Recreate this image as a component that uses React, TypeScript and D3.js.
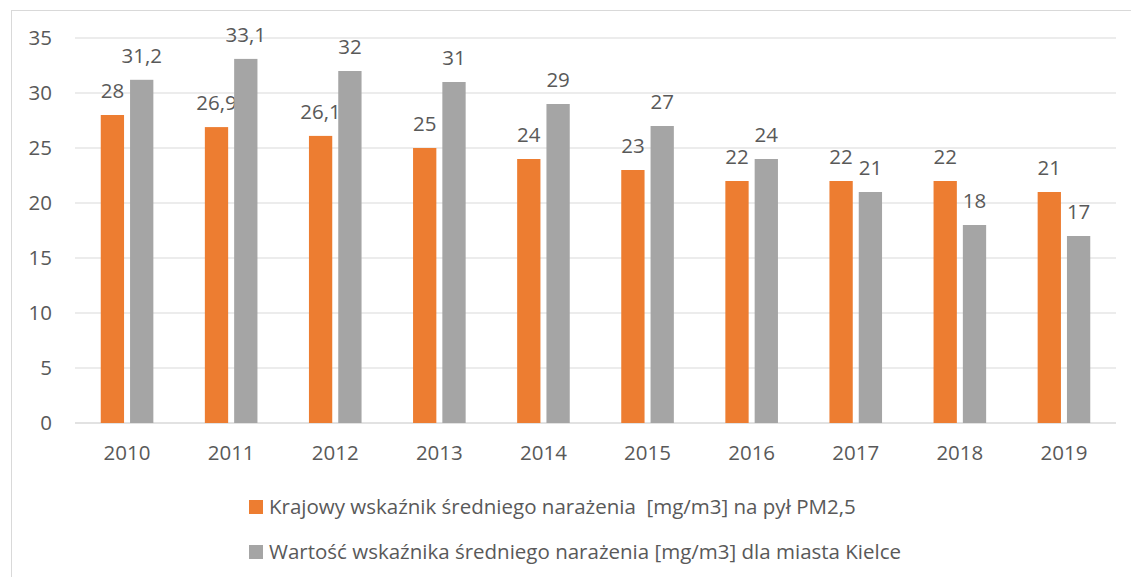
import React from 'react';
import * as d3 from 'd3';

const years = ['2010', '2011', '2012', '2013', '2014', '2015', '2016', '2017', '2018', '2019'];
const national = [28, 26.9, 26.1, 25, 24, 23, 22, 22, 22, 21];
const kielce = [31.2, 33.1, 32, 31, 29, 27, 24, 21, 18, 17];
const yTicks = [0, 5, 10, 15, 20, 25, 30, 35];
const seriesNames = [
  'Krajowy wskaźnik średniego narażenia  [mg/m3] na pył PM2,5',
  'Wartość wskaźnika średniego narażenia [mg/m3] dla miasta Kielce',
];
const colors = ['#ED7D31', '#A5A5A5'];

const W = 1131;
const H = 577;
const FONT = '"Open Sans", sans-serif';
const TEXT = '#595959';
const FS = 20.5;

const fmt = (v: number) => String(v).replace('.', ',');

const App: React.FC = () => {
  const x0 = d3.scaleBand<string>().domain(years).range([75, 1116]).padding(0);
  const groupW = 52.6;
  const x1 = d3.scaleBand<number>().domain([0, 1]).range([0, groupW]).paddingInner(0.205);
  const y = d3.scaleLinear().domain([0, 35]).range([423, 38]);
  const series = [national, kielce];

  return (
    <svg width={W} height={H} style={{ position: 'fixed', left: 0, top: 0, background: '#fff' }}>
      <rect x={11.5} y={10.5} width={W + 10} height={H + 10} fill="#fff" stroke="#D9D9D9" />
      {yTicks.map((t) => (
        <g key={t}>
          <line x1={75} x2={1116} y1={y(t)} y2={y(t)} stroke="#D9D9D9" strokeWidth={t === 0 ? 1.5 : 1.2} />
          <text x={52} y={y(t)} dy="0.35em" textAnchor="end" fontFamily={FONT} fontSize={FS} fill={TEXT}>
            {t}
          </text>
        </g>
      ))}
      {years.map((yr, i) => {
        const gx = x0(yr)! + (x0.bandwidth() - groupW) / 2;
        return (
          <g key={yr}>
            {series.map((s, k) => {
              const bx = gx + x1(k)!;
              const v = s[i];
              return (
                <g key={k}>
                  <rect x={bx} y={y(v)} width={x1.bandwidth()} height={y(0) - y(v)} fill={colors[k]} />
                  <text
                    x={bx + x1.bandwidth() / 2}
                    y={y(v) - 17}
                    textAnchor="middle"
                    fontFamily={FONT}
                    fontSize={FS}
                    fill={TEXT}
                  >
                    {fmt(v)}
                  </text>
                </g>
              );
            })}
            <text
              x={x0(yr)! + x0.bandwidth() / 2}
              y={460}
              textAnchor="middle"
              fontFamily={FONT}
              fontSize={FS}
              fill={TEXT}
            >
              {yr}
            </text>
          </g>
        );
      })}
      {seriesNames.map((name, k) => (
        <g key={name} transform={`translate(249, ${500 + k * 45})`}>
          <rect x={0} y={0} width={14} height={14} fill={colors[k]} />
          <text x={20} y={14} fontFamily={FONT} fontSize={FS} fill={TEXT} xmlSpace="preserve" style={{ whiteSpace: 'pre' }}>
            {name}
          </text>
        </g>
      ))}
    </svg>
  );
};

export default App;
